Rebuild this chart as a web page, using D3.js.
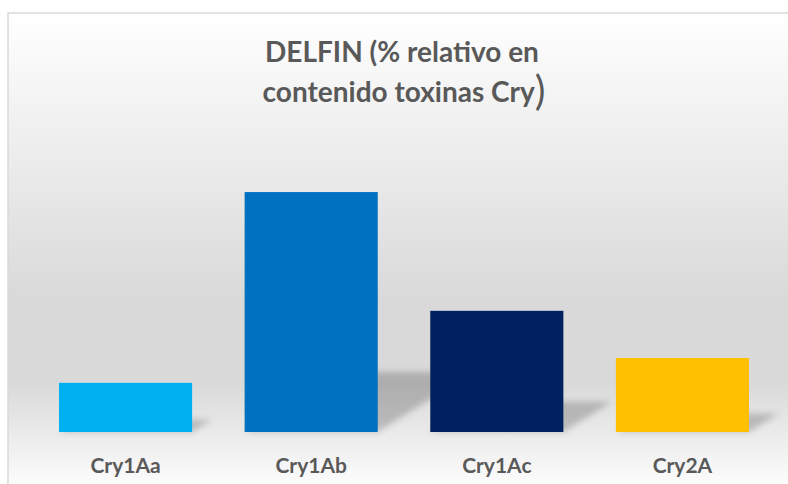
<!DOCTYPE html>
<html>
<head>
<meta charset="utf-8">
<script src="https://cdn.jsdelivr.net/npm/d3@7"></script>
<style>
  html, body { margin: 0; padding: 0; background: #ffffff; }
  svg { display: block; }
</style>
</head>
<body>
<script>
const categories = ["Cry1Aa", "Cry1Ab", "Cry1Ac", "Cry2A"];
const values = [10.1, 49.3, 24.9, 15.2];
const colors = ["#00B0F0", "#0070C0", "#002060", "#FFC000"];
const titleLines = ["DELFIN (% relativo en", "contenido toxinas Cry"];

const W = 788, H = 484;
const svg = d3.select("body").append("svg").attr("width", W).attr("height", H);
const defs = svg.append("defs");

const bg = defs.append("linearGradient").attr("id", "bg")
  .attr("x1", 0).attr("y1", 0).attr("x2", 0).attr("y2", 1);
[[0, "#ffffff"], [0.6, "#d9d9d9"], [0.77, "#d9d9d9"], [1, "#ffffff"]]
  .forEach(([o, c]) => bg.append("stop").attr("offset", o).attr("stop-color", c));

const blur = defs.append("filter").attr("id", "blur")
  .attr("x", "-50%").attr("y", "-50%").attr("width", "200%").attr("height", "200%");
blur.append("feGaussianBlur").attr("stdDeviation", 3);

// chart area
svg.append("rect").attr("x", 8).attr("y", 13).attr("width", 800).attr("height", 480)
  .attr("fill", "url(#bg)").attr("stroke", "#d9d9d9").attr("stroke-width", 1.5);

const x = d3.scaleBand().domain(categories).range([32.75, 775.25])
  .paddingInner(0.283).paddingOuter(0.1415);
const y = d3.scaleLinear().domain([0, 60]).range([432, 140]);

const data = categories.map((c, i) => ({ c, v: values[i], col: colors[i] }));

// perspective shadows
svg.append("g").selectAll("path").data(data).join("path")
  .attr("d", d => {
    const x0 = x(d.c), x1 = x0 + x.bandwidth(), base = y(0);
    const sh = (y(0) - y(d.v)) * 0.25, sk = sh * 1.6;
    return `M${x0},${base}L${x1},${base}L${x1 + sk},${base - sh}L${x0 + sk},${base - sh}Z`;
  })
  .attr("fill", "#000").attr("fill-opacity", 0.2).attr("filter", "url(#blur)");

// bars
svg.append("g").selectAll("rect").data(data).join("rect")
  .attr("x", d => x(d.c)).attr("width", x.bandwidth())
  .attr("y", d => y(d.v)).attr("height", d => y(0) - y(d.v))
  .attr("fill", d => d.col);

// category axis
const xAxis = svg.append("g").attr("transform", `translate(0,${y(0)})`)
  .call(d3.axisBottom(x).tickSize(0).tickPadding(26));
xAxis.select(".domain").remove();
xAxis.selectAll("text")
  .attr("font-family", "Lato, 'Open Sans', sans-serif")
  .attr("font-weight", 700).attr("font-size", 21).attr("fill", "#595959");

// title
const tg = svg.append("g").attr("font-family", "Lato, 'Open Sans', sans-serif")
  .attr("font-weight", 700).attr("fill", "#595959").attr("text-anchor", "middle");
tg.append("text").attr("x", 402).attr("y", 62).attr("font-size", 28).text(titleLines[0]);
const t2 = tg.append("text").attr("x", 404).attr("y", 102).attr("font-size", 28);
t2.append("tspan").text(titleLines[1]);
t2.append("tspan").attr("font-size", 40).attr("font-weight", 400).attr("dy", 3).text(")");
</script>
</body>
</html>
